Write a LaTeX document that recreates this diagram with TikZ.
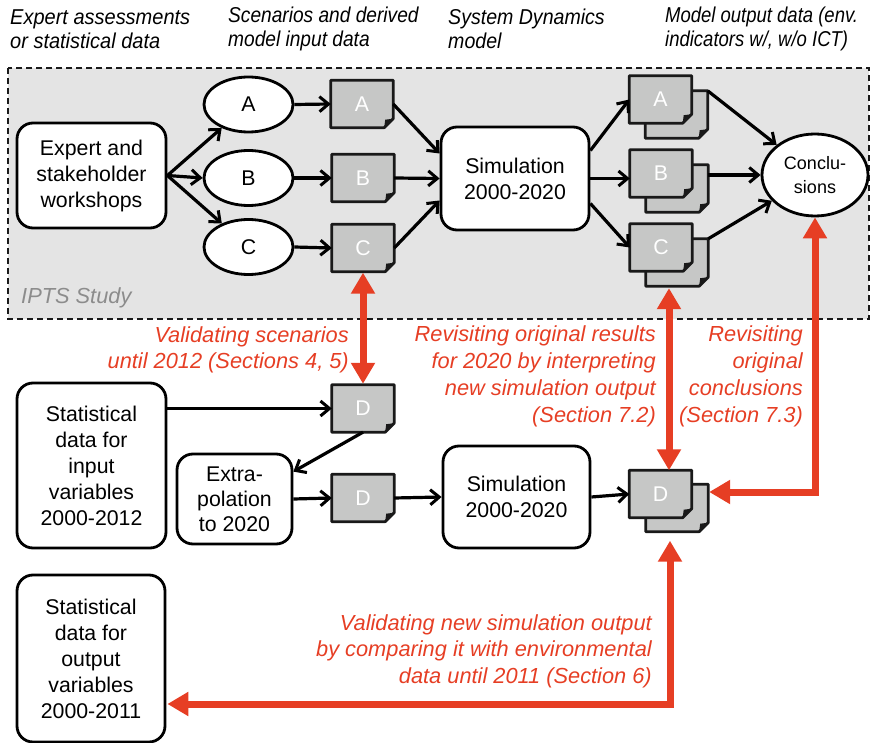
\documentclass[tikz,border=0pt]{standalone}
\usepackage{fontspec}
\setmainfont{Liberation Sans}
\newfontfamily\headA[FakeStretch=0.93]{Liberation Sans}
\newfontfamily\headB[FakeStretch=0.89]{Liberation Sans}
\newfontfamily\headC[FakeStretch=0.91]{Liberation Sans}
\newfontfamily\headD[FakeStretch=0.86]{Liberation Sans}
\usetikzlibrary{arrows.meta,shapes.geometric}

\definecolor{panel}{RGB}{228,228,228}
\definecolor{docgray}{RGB}{198,199,198}
\definecolor{linkred}{RGB}{230,62,36}
\definecolor{notegray}{RGB}{140,140,140}

\pgfdeclarelayer{back}
\pgfdeclarelayer{mid}
\pgfsetlayers{back,mid,main}

\newcommand\nodefs{\fontsize{21.3}{26}\selectfont}
\newcommand\notefs{\fontsize{21.8}{26.5}\selectfont\itshape}
\newcommand\headfs{\fontsize{21.5}{24}\selectfont\itshape}

% sheet outline with a folded lower-right corner, drawn behind node #1
\newcommand\docframe[1]{%
  \begin{pgfonlayer}{mid}
    \filldraw[fill=docgray,draw=black!90,line width=2.8pt,line join=round]
      (#1.north west) -- (#1.north east) -- ([yshift=9pt]#1.south east)
      -- ([xshift=-9pt]#1.south east) -- (#1.south west) -- cycle;
    \fill[black!90] ([yshift=9pt]#1.south east) -- ([xshift=-9pt]#1.south east)
      -- ([shift={(-8pt,8pt)}]#1.south east) -- cycle;
  \end{pgfonlayer}}

\tikzset{
  box/.style={draw, line width=2.8pt, rounded corners=16pt, align=center,
              inner sep=0pt, font=\nodefs},
  ell/.style={ellipse, draw, fill=white, line width=2.8pt, inner sep=0pt, font=\nodefs},
  sheet/.style={minimum width=62pt, minimum height=47pt, inner sep=0pt,
                text=white, font=\nodefs},
  blank/.style={minimum width=62pt, minimum height=47pt, inner sep=0pt},
  arr/.style={line width=3.2pt, -{Straight Barb[length=9pt,width=15pt,line width=3pt]}},
  link/.style={draw=linkred, line width=7pt,
               {Triangle[length=21pt,width=23pt]}-{Triangle[length=21pt,width=23pt]}},
  note/.style={text=linkred, font=\notefs, align=right, inner sep=0pt},
  head/.style={align=left, inner sep=0pt, anchor=west},
}

\begin{document}
\begin{tikzpicture}[x=1pt,y=-1pt]
\useasboundingbox (0,0) rectangle (871,743);

% study panel
\begin{pgfonlayer}{back}
  \filldraw[fill=panel,draw=black!90,line width=2.2pt,dash pattern=on 6pt off 4pt]
    (8,68) rectangle (869,319);
\end{pgfonlayer}
\node[font=\notefs, text=notegray, anchor=west, inner sep=0pt] (ipts) at (21,298) {IPTS Study};

% column headings
\node[head, font=\headA\headfs] (h1) at (10,29) {Expert assessments\\or statistical data};
\node[head, font=\headB\headfs] (h2) at (228,29) {Scenarios and derived\\model input data};
\node[head, font=\headC\headfs] (h3) at (448,29) {System Dynamics\\model};
\node[head, font=\headD\headfs] (h4) at (665,29) {Model output data (env.\\indicators w/, w/o ICT)};

% upper chain
\node[box, fill=white, minimum width=149pt, minimum height=105pt] (ws) at (91.5,175.5)
  {Expert and\\stakeholder\\workshops};
\node[ell, minimum width=89pt, minimum height=55pt] (eA) at (248.5,104.5) {A};
\node[ell, minimum width=89pt, minimum height=55pt] (eB) at (248.5,178) {B};
\node[ell, minimum width=89pt, minimum height=55pt] (eC) at (248.5,247) {C};
\node[sheet] (dA) at (362,104) {A};
\node[sheet] (dB) at (363,178) {B};
\node[sheet] (dC) at (363,248) {C};
\node[box, fill=white, minimum width=148pt, minimum height=103pt] (sim1) at (515,178.5)
  {Simulation\\2000-2020};
\node[blank] (oAb) at (676.5,114.5) {};
\node[sheet] (oA) at (660.5,99.5) {A};
\node[blank] (oBb) at (677,188.5) {};
\node[sheet] (oB) at (661,173.5) {B};
\node[blank] (oCb) at (677,262.5) {};
\node[sheet] (oC) at (661,247.5) {C};
\node[ell, minimum width=106pt, minimum height=82pt, font=\fontsize{18}{24}\selectfont,
      align=center] (conc) at (815,175) {Conclu-\\sions};

% lower chain
\node[sheet] (dD1) at (363,408.5) {D};
\node[box, minimum width=149pt, minimum height=165pt] (stin) at (91.5,465.5)
  {Statistical\\data for\\input\\variables\\2000-2012};
\node[box, minimum width=115pt, minimum height=90pt, font=\fontsize{21.3}{25}\selectfont]
  (ext) at (234.5,499) {Extra-\\polation\\to 2020};
\node[sheet] (dD2) at (363,498) {D};
\node[box, minimum width=147pt, minimum height=102pt] (sim2) at (516.5,497)
  {Simulation\\2000-2020};
\node[blank] (oDb) at (677,508) {};
\node[sheet] (oD) at (660.5,494) {D};
\node[box, minimum width=148pt, minimum height=167pt] (stout) at (91,658.5)
  {Statistical\\data for\\output\\variables\\2000-2011};

% sheet outlines (back copies first)
\docframe{dA}\docframe{dB}\docframe{dC}
\docframe{oAb}\docframe{oA}\docframe{oBb}\docframe{oB}\docframe{oCb}\docframe{oC}
\docframe{dD1}\docframe{dD2}\docframe{oDb}\docframe{oD}

% black flow arrows
\draw[arr] (ws.east) -- (eA);
\draw[arr] (ws.east) -- (eB.west);
\draw[arr] (ws.east) -- (eC);
\draw[arr] (eA.east) -- (dA.west);
\draw[arr] (eB.east) -- (dB.west);
\draw[arr] (eC.east) -- (dC.west);
\draw[arr] (dA.east) -- ([yshift=25pt]sim1.west);
\draw[arr] (dB.east) -- (sim1.west);
\draw[arr] (dC.east) -- ([yshift=-22pt]sim1.west);
\draw[arr] ([yshift=28pt]sim1.east) -- (oA.west);
\draw[arr] (sim1.east) -- (sim1.east -| oB.west);
\draw[arr] ([yshift=-25pt]sim1.east) -- (oC.west);
\draw[arr] (oAb.north east) -- (conc);
\draw[arr] (oBb.east |- conc.west) -- (conc.west);
\draw[arr] (oCb.north east) -- (conc);
\draw[arr] (dD1.west -| stin.east) -- (dD1.west);
\draw[arr] (dD1.south) -- ([yshift=-19pt]ext.north east);
\draw[arr] (ext.east) -- (dD2.west);
\draw[arr] (dD2.east) -- (sim2.west);
\draw[arr] (sim2.east) -- (oD.west);

% red validation links
\draw[link] ([yshift=-1pt]dC.south) -- ([yshift=1pt]dD1.north);
\draw[link] ([shift={(-8pt,-2pt)}]oCb.south) -- ([xshift=-8pt]oCb.south |- oD.north);
\draw[link] ([shift={(1pt,16pt)}]oDb.east) -| (conc.south);
\draw[link] ([shift={(-7pt,-9pt)}]oDb.south) |- ([shift={(1pt,-45.5pt)}]stout.east);

% link labels
\node[note, anchor=east] (n1) at (349,350)
  {Validating scenarios\\until 2012 (Sections 4, 5)};
\node[note, anchor=east, font=\fontsize{21.8}{27}\selectfont\itshape] (n2) at (656,376)
  {Revisiting original results\\for 2020 by interpreting\\new simulation output\\(Section 7.2)};
\node[note, anchor=east, font=\fontsize{21.8}{27}\selectfont\itshape] (n3) at (803,376)
  {Revisiting\\original\\conclusions\\(Section 7.3)};
\node[note, anchor=east] (n4) at (652,651)
  {Validating new simulation output\\by comparing it with environmental\\data until 2011 (Section 6)};
\end{tikzpicture}
\end{document}
